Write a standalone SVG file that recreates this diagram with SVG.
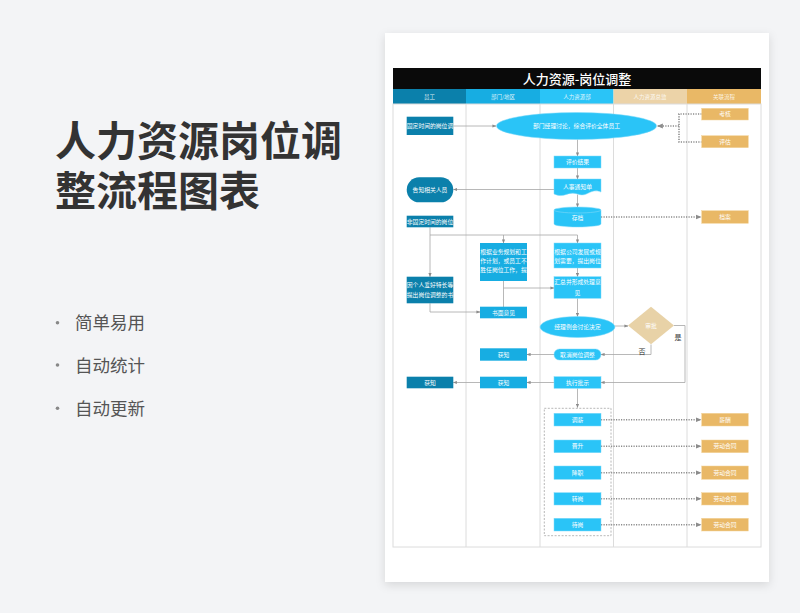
<svg xmlns="http://www.w3.org/2000/svg" width="800" height="613" viewBox="0 0 800 613">
<defs>
<marker id="arr" viewBox="0 0 10 10" refX="9" refY="5" markerWidth="4" markerHeight="4" markerUnits="userSpaceOnUse" orient="auto"><path d="M0,1 L10,5 L0,9 Z" fill="#8c8c8c"/></marker>
<marker id="arrD" viewBox="0 0 10 10" refX="9" refY="5" markerWidth="6" markerHeight="6" markerUnits="userSpaceOnUse" orient="auto"><path d="M0,1 L10,5 L0,9 Z" fill="#8c8c8c"/></marker>
<filter id="sh" x="-10%" y="-10%" width="120%" height="120%"><feDropShadow dx="0" dy="3" stdDeviation="5" flood-color="#000" flood-opacity="0.12"/></filter>
<style>
.ln{fill:none;stroke:#a6a6a6;stroke-width:0.8}
.dot{fill:none;stroke:#8c8c8c;stroke-width:1.6;stroke-dasharray:1.2 1.3}
.emp{fill:#0b80ab}
.dep{fill:#17ade2}
.hr{fill:#2ac4f7;stroke:#7fd9f9;stroke-width:0.5}
.rel{fill:#e9b866;stroke:#f3d49c;stroke-width:0.5}
.t{font-family:"Noto Sans CJK SC","Noto Sans",sans-serif;font-size:5.8px;fill:#fff;text-anchor:middle}
.h{font-family:"Noto Sans CJK SC","Noto Sans",sans-serif;font-size:5.5px;fill:#fff;fill-opacity:0.85;text-anchor:middle}
.grid{fill:none;stroke:#dcdcdc;stroke-width:1}
.lbl{font-family:"Noto Sans CJK SC","Noto Sans",sans-serif;font-size:7px;fill:#333;text-anchor:middle}
.bul{font-family:"Noto Sans CJK SC","Noto Sans",sans-serif;font-size:17.5px;fill:#555}
</style>
</defs>
<rect x="0" y="0" width="800" height="613" fill="#f3f4f6"/>
<g id="left-title">
<text x="55" y="156" font-family="'Noto Sans CJK SC','Noto Sans',sans-serif" font-size="41" font-weight="700" fill="#333">人力资源岗位调</text>
<text x="55" y="206" font-family="'Noto Sans CJK SC','Noto Sans',sans-serif" font-size="41" font-weight="700" fill="#333">整流程图表</text>
</g>
<g id="bullets">
<circle cx="57.5" cy="322.7" r="1.8" fill="#888"/>
<text class="bul" x="75" y="329.3">简单易用</text>
<circle cx="57.5" cy="365" r="1.8" fill="#888"/>
<text class="bul" x="75" y="371.6">自动统计</text>
<circle cx="57.5" cy="408.3" r="1.8" fill="#888"/>
<text class="bul" x="75" y="414.9">自动更新</text>
</g>
<rect id="card" x="385" y="33" width="384" height="549" fill="#fff" filter="url(#sh)"/>
<g id="table">
<rect x="393" y="68" width="368" height="21" fill="#0a0a0a"/>
<text x="577" y="84" font-family="'Noto Sans CJK SC','Noto Sans',sans-serif" font-size="13" font-weight="500" fill="#fff" text-anchor="middle">人力资源-岗位调整</text>
<rect x="393" y="89" width="73" height="15" fill="#0b80ab"/>
<rect x="466" y="89" width="74" height="15" fill="#17ade2"/>
<rect x="540" y="89" width="73.5" height="15" fill="#2ac4f7"/>
<rect x="613.5" y="89" width="73.5" height="15" fill="#ecd3a8"/>
<rect x="687" y="89" width="74" height="15" fill="#e9b866"/>
<text class="h" x="429.5" y="98.5">员工</text>
<text class="h" x="503" y="98.5">部门/地区</text>
<text class="h" x="577" y="98.5">人力资源部</text>
<text class="h" x="650" y="98.5">人力资源总监</text>
<text class="h" x="724" y="98.5">关联流程</text>
<rect class="grid" x="393" y="104" width="368" height="443"/>
<path class="grid" d="M466,104V547M540,104V547M613.5,104V547M687,104V547"/>
</g>
<g id="connectors">
<path class="ln" d="M453.3,126H496" marker-end="url(#arr)"/>
<path class="ln" d="M577.5,139.5V156" marker-end="url(#arr)"/>
<path class="ln" d="M577.5,168V179" marker-end="url(#arr)"/>
<path class="ln" d="M554,189.5H453.5" marker-end="url(#arr)"/>
<path class="ln" d="M577.5,194.5V207" marker-end="url(#arr)"/>
<path class="dot" d="M601,217H701" marker-end="url(#arrD)"/>
<path class="dot" d="M701.7,114H679V142H701.7"/>
<path class="dot" d="M679,126H657.5" marker-end="url(#arrD)"/>
<path class="ln" d="M430,227.3V235H577.5V243" marker-end="url(#arr)"/>
<path class="ln" d="M503.5,235V243" marker-end="url(#arr)"/>
<path class="ln" d="M430,235V276.7" marker-end="url(#arr)"/>
<path class="ln" d="M430,303.3V312H480" marker-end="url(#arr)"/>
<path class="ln" d="M503.5,281V307"/>
<path class="ln" d="M503.5,288H554" marker-end="url(#arr)"/>
<path class="ln" d="M577.5,268V276.7" marker-end="url(#arr)"/>
<path class="ln" d="M577.5,298.3V316.5" marker-end="url(#arr)"/>
<path class="ln" d="M615,326H628" marker-end="url(#arr)"/>
<path class="ln" d="M674,325.5H685V382.5H601" marker-end="url(#arr)"/>
<path class="ln" d="M651,344.5V354.5H601" marker-end="url(#arr)"/>
<path class="ln" d="M554,354.5H527" marker-end="url(#arr)"/>
<path class="ln" d="M554,382.5H527" marker-end="url(#arr)"/>
<path class="ln" d="M480,382.5H453.3" marker-end="url(#arr)"/>
<path class="ln" d="M577.5,388.3V407.5" marker-end="url(#arr)"/>
<path class="dot" d="M601,419.7H701" marker-end="url(#arrD)"/>
<path class="dot" d="M601,446.3H701" marker-end="url(#arrD)"/>
<path class="dot" d="M601,472.7H701" marker-end="url(#arrD)"/>
<path class="dot" d="M601,498.8H701" marker-end="url(#arrD)"/>
<path class="dot" d="M601,524.7H701" marker-end="url(#arrD)"/>
<text class="lbl" x="678" y="340">是</text>
<text class="lbl" x="642" y="353.5">否</text>
</g>
<g id="n-fixed"><rect class="emp" x="406.7" y="116.7" width="46.6" height="18.3"/><text class="t" x="430" y="128">固定时间的岗位调</text></g>
<g id="n-discuss"><ellipse class="hr" cx="576.5" cy="126" rx="80" ry="13.5"/><text class="t" x="576.5" y="128">部门经理讨论，综合评价全体员工</text></g>
<g id="n-kaohe"><rect class="rel" x="701.7" y="108.3" width="46.6" height="11.7"/><text class="t" x="725" y="116.2">考核</text></g>
<g id="n-pinggu"><rect class="rel" x="701.7" y="135.7" width="46.6" height="12"/><text class="t" x="725" y="143.7">评估</text></g>
<g id="n-result"><rect class="hr" x="554" y="156" width="47" height="12"/><text class="t" x="577.5" y="164">评价结果</text></g>
<g id="n-notice"><path class="hr" d="M554,179H601V192C590,187.5 588,198 577.5,194C567,190.5 565,199 554,194Z"/><text class="t" x="577.5" y="189">人事通知单</text></g>
<g id="n-inform"><rect class="emp" x="406.7" y="177.3" width="46.6" height="25" rx="12.5"/><text class="t" x="430" y="191.8">告知相关人员</text></g>
<g id="n-archive"><path class="hr" d="M554,210A23.5,3 0 0 1 601,210V224A23.5,3 0 0 1 554,224Z"/><path d="M554,210A23.5,3 0 0 0 601,210" fill="none" stroke="#7fd9f9" stroke-width="0.6"/><text class="t" x="577.5" y="220">存档</text></g>
<g id="n-dangan"><rect class="rel" x="701.7" y="210.7" width="46.6" height="12.6"/><text class="t" x="725" y="219">档案</text></g>
<g id="n-nonfixed"><rect class="emp" x="406.7" y="215.7" width="46.6" height="11.6"/><text class="t" x="430" y="223.5">非固定时间的岗位</text></g>
<g id="n-plan"><rect class="dep" x="480" y="243" width="47" height="38"/><text class="t" x="503.5" y="253.6">根据业务规划和工</text><text class="t" x="503.5" y="262.7">作计划，或员工不</text><text class="t" x="503.5" y="271.8">胜任岗位工作，提</text></g>
<g id="n-company"><rect class="hr" x="554" y="243" width="47" height="25"/><text class="t" x="577.5" y="253.7">根据公司发展或规</text><text class="t" x="577.5" y="262.7">划需要，提出岗位</text></g>
<g id="n-personal"><rect class="emp" x="406.7" y="276.7" width="46.6" height="26.6"/><text class="t" x="430" y="287">因个人爱好特长等</text><text class="t" x="430" y="297">提出岗位调整的书</text></g>
<g id="n-written"><rect class="dep" x="480" y="306.7" width="47" height="11.6"/><text class="t" x="503.5" y="314.5">书面意见</text></g>
<g id="n-summary"><rect class="hr" x="554" y="276.7" width="47" height="21.6"/><text class="t" x="577.5" y="284.3">汇总并形成处理意</text><text class="t" x="577.5" y="295.3">见</text></g>
<g id="n-meeting"><ellipse class="hr" cx="577.5" cy="327" rx="37.5" ry="10.5"/><text class="t" x="577.5" y="329">经理例会讨论决定</text></g>
<g id="n-approve"><path d="M651,306.7L674,325.5L651,344.3L628,325.5Z" fill="#e8d2a7"/><text class="t" x="651" y="327.5">审批</text></g>
<g id="n-cancel"><rect class="hr" x="554" y="349" width="47" height="11" rx="5.5"/><text class="t" x="577.5" y="356.5">取消岗位调整</text></g>
<g id="n-know1"><rect class="dep" x="480" y="348.3" width="47" height="12.4"/><text class="t" x="503.5" y="356.5">获知</text></g>
<g id="n-exec"><rect class="hr" x="554" y="376.7" width="47" height="11.6"/><text class="t" x="577.5" y="384.5">执行批示</text></g>
<g id="n-know2"><rect class="dep" x="480" y="376.7" width="47" height="11.6"/><text class="t" x="503.5" y="384.5">获知</text></g>
<g id="n-know3"><rect class="emp" x="406.7" y="376.7" width="46.6" height="11.6"/><text class="t" x="430" y="384.5">获知</text></g>
<g id="n-group"><rect x="544.3" y="408.3" width="66.7" height="127.4" fill="none" stroke="#a6a6a6" stroke-width="0.8" stroke-dasharray="2 1.5"/></g>
<g id="n-tiaoxin"><rect class="hr" x="554" y="413.3" width="47" height="12.7"/><text class="t" x="577.5" y="421.7">调薪</text></g>
<g id="n-jinsheng"><rect class="hr" x="554" y="440" width="47" height="12.7"/><text class="t" x="577.5" y="448.3">晋升</text></g>
<g id="n-jiangzhi"><rect class="hr" x="554" y="466" width="47" height="13.3"/><text class="t" x="577.5" y="474.7">降职</text></g>
<g id="n-zhuangang"><rect class="hr" x="554" y="492.7" width="47" height="12.3"/><text class="t" x="577.5" y="500.8">转岗</text></g>
<g id="n-daigang"><rect class="hr" x="554" y="518.3" width="47" height="12.7"/><text class="t" x="577.5" y="526.7">待岗</text></g>
<g id="n-xinchou"><rect class="rel" x="701.7" y="413.3" width="46.6" height="12.7"/><text class="t" x="725" y="421.7">薪酬</text></g>
<g id="n-ht1"><rect class="rel" x="701.7" y="440" width="46.6" height="12.7"/><text class="t" x="725" y="448.3">劳动合同</text></g>
<g id="n-ht2"><rect class="rel" x="701.7" y="466" width="46.6" height="13.3"/><text class="t" x="725" y="474.7">劳动合同</text></g>
<g id="n-ht3"><rect class="rel" x="701.7" y="492.7" width="46.6" height="12.3"/><text class="t" x="725" y="500.8">劳动合同</text></g>
<g id="n-ht4"><rect class="rel" x="701.7" y="518.3" width="46.6" height="12.7"/><text class="t" x="725" y="526.7">劳动合同</text></g>
</svg>
